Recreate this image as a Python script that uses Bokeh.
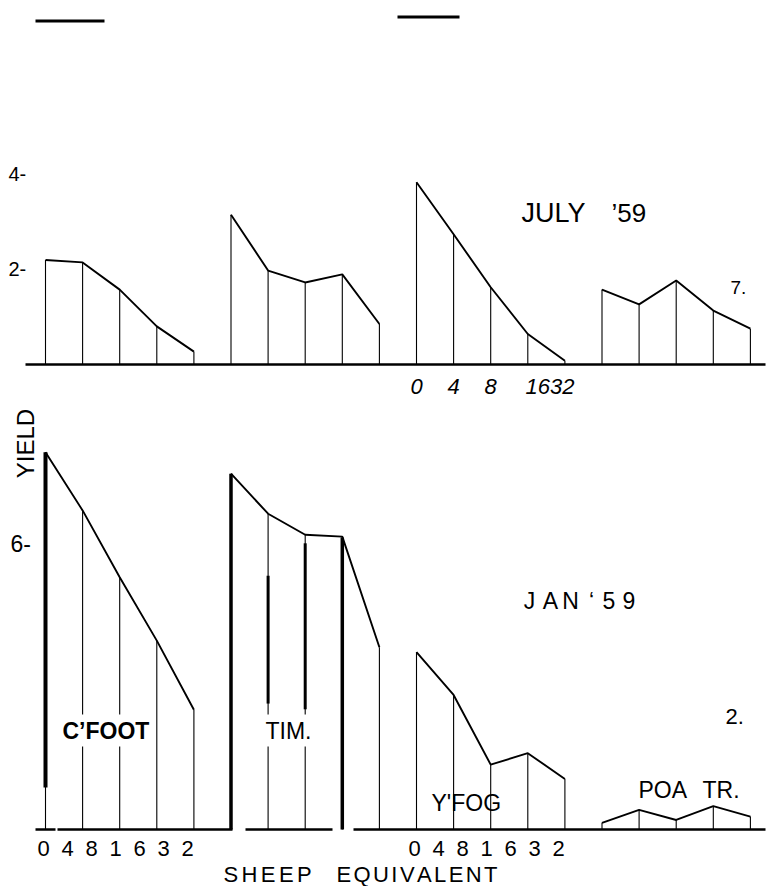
import numpy as np
from bokeh.plotting import figure
from bokeh.layouts import column
from bokeh.models import Range1d, Label
from bokeh.core.properties import value
from bokeh.embed import file_html
from bokeh.resources import INLINE

# ---------------- data ----------------
stock = [0, 4, 8, 16, 32]                      # sheep equivalent per group
species = ["C’FOOT", "TIM.", "Y'FOG", "POA TR."]

july_cfoot = [2.19, 2.14, 1.57, 0.80, 0.27]
july_tim   = [3.14, 1.97, 1.72, 1.89, 0.85]
july_yfog  = [3.82, 2.73, 1.62, 0.64, 0.08]
july_poa   = [1.57, 1.26, 1.76, 1.13, 0.75]

jan_cfoot = [7.91, 6.69, 5.29, 3.96, 2.51]
jan_tim   = [7.46, 6.62, 6.18, 6.14, 3.82]
jan_yfog  = [3.72, 2.82, 1.36, 1.60, 1.06]
jan_poa   = [0.14, 0.41, 0.20, 0.49, 0.27]

july = [july_cfoot, july_tim, july_yfog, july_poa]
jan = [jan_cfoot, jan_tim, jan_yfog, jan_poa]

yticks_top = [2, 4]
yticks_bottom = [6]

# ---------------- layout helpers (page pixels -> data units, labels only) ----
W = 767
PX_SLOT = 37.1
PX_UNIT = 47.7
FONT = "Liberation Sans"


def sx(px):
    return (px - 45) / PX_SLOT


def ty(py):
    return (364 - py) / PX_UNIT


def by(py):
    return (829 - py) / PX_UNIT


x_lo = sx(0)
XR = Range1d(x_lo, x_lo + W / PX_SLOT)

H1, H2 = 400, 486
top_hi = ty(0)
bot_hi = by(400)


def make_fig(h, y_hi):
    p = figure(width=W, height=h, x_range=XR,
               y_range=Range1d(y_hi - h / PX_UNIT, y_hi),
               output_backend="svg", toolbar_location=None,
               x_axis_location=None, y_axis_location=None,
               min_border=0, outline_line_color=None)
    p.grid.visible = False
    p.background_fill_color = "white"
    p.border_fill_color = "white"
    return p


def draw_panel(p, data, bar_w, poly_w):
    for g, vals in enumerate(data):
        xs = [g * len(stock) + i for i in range(len(stock))]
        p.segment(x0=xs, y0=[0] * len(xs), x1=xs, y1=vals,
                  line_color="black", line_width=bar_w)
        p.line(xs, vals, line_color="black", line_width=poly_w)


CW = {"S": .667, "H": .722, "E": .667, "P": .667, "Q": .778, "U": .722,
      "I": .278, "V": .667, "A": .667, "L": .556, "N": .722, "T": .611}


def spaced(p, word, left_px, y, size, spacing):
    xs = []
    cur = left_px
    for ch in word:
        xs.append(sx(cur))
        cur += CW.get(ch, .6) * size + spacing
    p.text(x=xs, y=[y] * len(xs), text=list(word), text_font=value(FONT),
           text_font_size=f"{size}px", text_align="left",
           text_baseline="middle", text_color="black")


# ================= TOP PANEL (JULY '59) =================
top = make_fig(H1, top_hi)
# header rules
top.segment(x0=[sx(35), sx(397)], y0=[ty(20.5), ty(16.5)],
            x1=[sx(104), sx(459)], y1=[ty(20.5), ty(16.5)],
            line_color="black", line_width=3)
top.segment(x0=sx(25), y0=0, x1=sx(765), y1=0, line_color="black", line_width=2.5)
draw_panel(top, july, 1.1, 1.9)

top.text(x=[sx(8)] * len(yticks_top), y=yticks_top,
         text=[f"{t}-" for t in yticks_top], text_font=value(FONT),
         text_font_size="20px", text_align="left", text_baseline="middle")
top.text(x=[sx(521)], y=[ty(212)], text=["JULY"], text_font=value(FONT),
         text_font_size="27px", text_align="left", text_baseline="middle")
top.text(x=[sx(611)], y=[ty(212)], text=["’59"], text_font=value(FONT),
         text_font_size="26px", text_align="left", text_baseline="middle")
top.text(x=[sx(730)], y=[ty(287)], text=["7."], text_font=value(FONT),
         text_font_size="19px", text_align="left", text_baseline="middle")
# italic stocking-rate ticks under Y'FOG
g0 = 2 * len(stock)
top.text(x=[g0, g0 + 1, g0 + 2, g0 + 3.6], y=[ty(386)] * 4,
         text=[str(stock[0]), str(stock[1]), str(stock[2]),
               str(stock[3]) + str(stock[4])],
         text_font=value(FONT), text_font_style="italic",
         text_font_size="22px", text_align="center", text_baseline="middle")

# ================= BOTTOM PANEL (JAN '59) =================
bot = make_fig(H2, bot_hi)
# baseline pieces (scan gaps)
bot.segment(x0=[sx(35), sx(57), sx(245), sx(353)], y0=[0] * 4,
            x1=[sx(55), sx(232), sx(332), sx(765)], y1=[0] * 4,
            line_color="black", line_width=2.5)
draw_panel(bot, jan, 1.1, 1.9)
# heavy strokes in the original print
heavy_x = [0, 5, 6, 7, 8]
heavy_y0 = [0.88, 0, 2.64, 2.52, 0]
heavy_y1 = [jan_cfoot[0], jan_tim[0], 5.32, 6.0, 6.12]
heavy_w = [4, 3.5, 3, 3, 3.5]
bot.segment(x0=heavy_x, y0=heavy_y0, x1=heavy_x, y1=heavy_y1,
            line_color="black", line_width=heavy_w)

bot.text(x=[sx(10)] * len(yticks_bottom), y=yticks_bottom,
         text=[f"{t}-" for t in yticks_bottom], text_font=value(FONT),
         text_font_size="23px", text_align="left", text_baseline="middle")
bot.text(x=[sx(25)], y=[by(443)], text=["YIELD"], angle=np.pi / 2,
         text_font=value(FONT), text_font_size="24px",
         text_align="center", text_baseline="middle")

jan_chars = list("JAN‘59")
jan_cx = [529, 550, 570, 591, 608.5, 628.5]
bot.text(x=[sx(c) for c in jan_cx], y=[by(600)] * len(jan_chars), text=jan_chars,
         text_font=value(FONT), text_font_size="23px",
         text_align="center", text_baseline="middle")
bot.text(x=[sx(725)], y=[by(716)], text=["2."], text_font=value(FONT),
         text_font_size="22px", text_align="left", text_baseline="middle")

bot.add_layout(Label(x=sx(59), y=by(730), text=species[0], text_font=FONT,
                     text_font_style="bold", text_font_size="23px",
                     text_color="black", text_align="left",
                     text_baseline="middle",
                     background_fill_color="white", padding=3))
bot.add_layout(Label(x=sx(262), y=by(730), text=species[1], text_font=FONT,
                     text_font_size="23px", text_color="black",
                     text_align="left", text_baseline="middle",
                     background_fill_color="white", padding=3))
bot.text(x=[sx(431)], y=[by(802)], text=[species[2]], text_font=value(FONT),
         text_font_size="23px", text_align="left", text_baseline="middle")
poa_words = species[3].split(" ")
bot.text(x=[sx(638), sx(702)], y=[by(789)] * 2, text=poa_words,
         text_font=value(FONT), text_font_size="23px",
         text_align="left", text_baseline="middle")

# stocking-rate ticks (digits spread evenly) under C'FOOT and Y'FOG
digits = list("".join(str(s) for s in stock))
for g in (0, 2):
    gx = g * len(stock)
    bot.text(x=[gx] * len(digits), y=[by(848)] * len(digits), text=digits,
             x_offset=[-2 + 24 * i for i in range(len(digits))],
             text_font=value(FONT), text_font_size="22px",
             text_align="center", text_baseline="middle")

spaced(bot, "SHEEP", 223, by(874), 22, 3.4)
spaced(bot, "EQUIVALENT", 336, by(874), 22, 2.4)

layout = column(top, bot, spacing=0)
open("out.html", "w").write(file_html(layout, INLINE))
